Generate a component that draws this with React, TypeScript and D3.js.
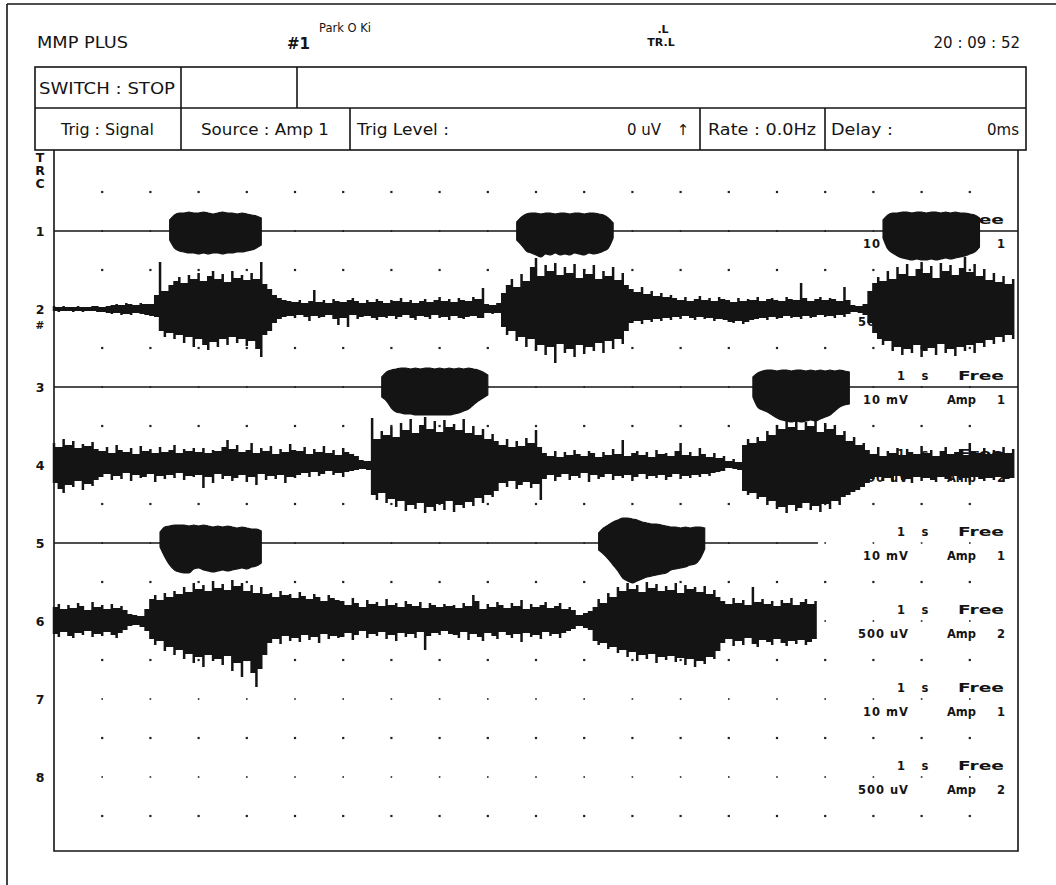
import React from 'react';
import * as d3 from 'd3';

// sampling interval of the recorded envelopes (s)
const DT = 0.1;
const SWEEP = 20; // seconds across the screen

const trcLabels = ['1', '2', '3', '4', '5', '6', '7', '8'];
const sensLabels = ['10 mV', '500 uV', '10 mV', '500 uV', '10 mV', '500 uV', '10 mV', '500 uV'];
const ampNo = ['1', '2', '1', '2', '1', '2', '1', '2'];
const timeBase = ['1', 's'];
const trigMode = 'Free';
// traces 5 and 6 stop early
const traceEnd = [20, 20, 20, 20, 15.85, 15.85, 20, 20];

// trace 2 (500 uV, Amp 2) envelope: up / down excursion per sample
const trc2Hi = [
  3, 2, 3, 2, 2, 3, 2, 2, 3, 3, 2, 3, 4, 5, 4, 6, 5, 4, 6, 5, 5,
  14, 47, 18, 24, 28, 32, 26, 34, 30, 36, 28, 33, 38, 30, 35, 27, 38, 31, 34, 29, 36, 30, 47, 25, 20, 14, 11, 9,
  8, 7, 9, 6, 8, 19, 7, 9, 6, 10, 8, 7, 9, 11, 8, 6, 9, 7, 10, 8, 6, 9, 8, 11, 7, 9, 6, 8, 10, 7, 9, 12, 8, 10, 7, 11, 9, 8, 12, 10,
  21, 5, 4, 6,
  16, 24, 30, 22, 35, 28, 42, 51, 33, 44, 38, 46, 34, 42, 36, 45, 31, 40, 35, 44, 30, 38, 33, 42, 29, 36, 24,
  20, 17, 22, 15, 18, 13, 16, 12, 14,
  11, 9, 12, 8, 10, 13, 9, 11, 8, 12, 10, 9, 7, 11, 8, 10, 9, 12, 8, 10, 11, 9, 8, 12, 10, 9, 26, 11, 8, 10, 12, 9, 11, 10, 8, 22, 9,
  4, 3, 5,
  18, 26, 32, 28, 38, 30, 42, 35, 45, 33, 40, 47, 36, 43, 31, 46, 38, 44, 34, 41, 52, 37, 45, 33, 40, 29, 36, 27, 33, 25, 30,
];
const trc2Lo = [
  2, 3, 2, 2, 3, 2, 3, 2, 2, 3, 3, 4, 5, 4, 6, 5, 6, 4, 5, 6, 7,
  8, 22, 28, 24, 30, 26, 34, 28, 38, 30, 36, 41, 33, 38, 30, 36, 28, 34, 30, 37, 32, 40, 48, 26, 22, 14, 10, 8,
  7, 9, 6, 8, 12, 7, 9, 8, 6, 10, 16, 9, 18, 6, 10, 8, 7, 9, 11, 8, 9, 7, 10, 8, 6, 9, 11, 7, 8, 10, 6, 9, 8, 11, 7, 9, 10, 8, 7, 9,
  9, 4, 5, 4,
  18, 26, 22, 32, 28, 38, 30, 42, 36, 46, 38, 54, 35, 44, 40, 48, 36, 45, 38, 42, 34, 44, 32, 40, 30, 35, 22,
  14, 12, 15, 11, 13, 10, 12, 9, 11,
  8, 10, 7, 9, 11, 8, 10, 9, 12, 10, 11, 13, 14, 12, 15, 13, 11, 10, 9, 11, 8, 10, 9, 7, 9, 8, 10, 7, 9, 8, 6, 8, 7, 9, 6, 8, 5,
  3, 4, 6,
  14, 24, 30, 36, 32, 42, 38, 46, 40, 44, 36, 48, 42, 39, 46, 35, 44, 40, 47, 38, 42, 36, 44, 34, 38, 31, 35, 28, 33, 26, 30,
];

// trace 4 (500 uV, Amp 2)
const trc4Hi = [
  22, 18, 26, 20, 24, 17, 21, 19, 23, 16,
  14, 18, 12, 20, 15, 13, 17, 11, 19, 14, 16, 12, 18, 13, 15, 20, 12, 16, 14, 17, 13,
  17, 12, 15, 14, 18, 25, 16, 20, 13, 15, 22, 12, 17, 14, 19, 11, 16, 13, 21, 15,
  14, 18, 11, 16, 13, 19, 12, 15, 10, 17, 13, 11, 9,
  5, 4,
  47, 26, 34, 30, 38, 28, 42, 35, 46, 32, 40, 48, 36, 44, 33, 45, 38, 41, 35, 46, 32, 39, 30, 36, 26, 31, 24,
  20, 26, 18, 24, 19, 27, 22, 35, 18,
  12, 9, 14, 8, 13, 10, 15, 11, 9, 14, 12, 8, 13, 10, 16, 11, 25, 9, 12, 14, 10, 13, 8, 15, 11, 12, 9, 14, 22, 10, 13, 9, 17, 11, 8, 12, 7, 9,
  4, 6, 3,
  20, 26, 22, 28, 24, 34, 30, 40, 36, 45, 38, 48, 35, 43, 39, 46, 33, 42, 36, 40, 30, 34, 24, 28, 20, 22,
  15, 11, 18, 9, 14, 12, 17, 10, 16, 13, 11, 19, 12, 15, 9, 14, 18, 11, 13, 16, 10, 22, 14, 12, 17, 11, 15, 13, 18, 12, 16,
];
const trc4Lo = [
  18, 24, 28, 20, 22, 16, 25, 19, 21, 15,
  12, 9, 15, 11, 14, 8, 16, 10, 13, 12, 9, 17, 11, 14, 10, 13, 8, 15, 11, 12, 10,
  23, 12, 18, 9, 14, 11, 16, 13, 10, 17, 12, 20, 9, 15, 11, 14, 10, 18, 12, 13,
  10, 8, 12, 7, 11, 9, 6, 10, 8, 12, 7, 6, 5,
  4, 5,
  30, 35, 28, 38, 34, 42, 36, 46, 40, 44, 38, 48, 42, 46, 39, 45, 36, 47, 40, 43, 37, 41, 33, 38, 30, 32, 26,
  18, 22, 16, 24, 20, 17, 23, 19, 35,
  14, 10, 16, 12, 9, 15, 11, 13, 8, 17, 10, 14, 12, 9, 15, 11, 13, 10, 16, 12, 9, 14, 11, 13, 10, 15, 12, 9, 14, 11, 13, 10, 12, 9, 11, 8, 7, 6,
  3, 4, 5,
  26, 30, 28, 34, 32, 40, 36, 44, 42, 48, 40, 46, 43, 38, 45, 41, 47, 39, 44, 36, 40, 32, 30, 27, 25, 22,
  18, 14, 12, 16, 13, 17, 11, 15, 14, 18, 12, 16, 13, 15, 17, 12, 14, 16, 11, 15, 13, 17, 12, 14, 16, 13, 15, 12, 17, 14, 13,
];

// trace 6 (500 uV, Amp 2)
const trc6Hi = [
  14, 17, 12, 16, 13, 18, 15, 11, 19, 14, 16, 12, 17, 13, 15, 11,
  7, 6, 5, 12,
  22, 26, 21, 28, 24, 30, 27, 34, 29, 38, 32, 36, 30, 40, 33, 37, 31, 41, 35, 38, 30, 36, 28, 34, 27,
  28, 24, 30, 26, 27, 23, 29, 25, 22, 27, 24, 20, 26, 23, 21,
  20, 16, 23, 18, 14, 21, 17, 19, 15, 22, 16, 18, 14, 20, 17, 15, 19, 13, 18, 16, 14, 17, 15,
  16, 13, 18, 15, 26, 20, 12, 17, 14, 19, 16, 13, 18, 15, 21, 12, 17, 14, 16, 19, 13, 15, 18, 12, 14, 11,
  6, 8, 10,
  14, 22, 18, 28, 24, 34, 30, 38, 32, 36, 29, 39, 33, 37, 30, 35, 31, 38, 28, 36, 32, 34, 29, 35, 27, 31, 24,
  20, 17, 23, 18, 21, 16, 34, 19, 22, 17, 20, 15, 21, 18, 23, 16, 19, 22, 17, 20,
];
const trc6Lo = [
  13, 16, 11, 15, 17, 12, 14, 10, 16, 13, 15, 11, 14, 17, 12, 9,
  5, 4, 6, 10,
  18, 24, 20, 30, 26, 34, 29, 38, 33, 42, 36, 46, 34, 40, 38, 44, 35, 50, 42, 56, 40, 52, 66, 48, 34,
  22, 18, 23, 15, 20, 17, 21, 14, 19, 16, 22, 13, 18, 15, 17,
  16, 12, 19, 14, 10, 17, 13, 15, 11, 18, 14, 20, 12, 16, 13, 17, 11, 29, 15, 12, 14, 10, 13,
  14, 17, 11, 19, 13, 16, 20, 12, 15, 18, 11, 14, 17, 13, 21, 12, 16, 14, 18, 11, 15, 13, 17, 12, 10, 8,
  5, 7, 9,
  20, 24, 22, 28, 26, 32, 29, 36, 31, 40, 34, 38, 33, 42, 36, 39, 35, 41, 37, 44, 38, 46, 40, 43, 36, 38, 30,
  22, 18, 25, 20, 24, 17, 23, 26, 19, 21, 24, 18, 22, 25, 20, 23, 19, 24, 21, 18,
];

// Amp 1 bursts (traces 1, 3, 5): onset time and envelope
const trc1BurstStart = [2.4, 9.6, 17.2];
const trc1BurstHi = [
  [11, 16, 18, 18, 19, 18, 18, 19, 18, 17, 18, 19, 18, 18, 17, 18, 17, 16, 15, 13],
  [9, 14, 17, 18, 18, 17, 18, 18, 17, 18, 18, 17, 18, 18, 17, 18, 18, 17, 16, 13, 8],
  [11, 16, 18, 18, 19, 19, 18, 19, 19, 18, 19, 19, 18, 19, 18, 19, 18, 18, 17, 16, 13],
];
const trc1BurstLo = [
  [9, 17, 20, 21, 22, 22, 23, 22, 23, 22, 22, 23, 22, 22, 21, 21, 20, 19, 17, 14],
  [9, 14, 20, 22, 24, 26, 23, 24, 22, 24, 23, 24, 22, 23, 24, 22, 23, 22, 20, 17, 7],
  [7, 18, 22, 25, 27, 28, 29, 28, 29, 29, 28, 29, 28, 27, 28, 27, 26, 25, 23, 21, 16],
];
const trc3BurstStart = [6.8, 14.5];
const trc3BurstHi = [
  [10, 15, 17, 18, 19, 19, 18, 19, 18, 19, 19, 18, 19, 18, 19, 18, 19, 18, 19, 18, 17, 15, 12],
  [10, 14, 16, 17, 17, 16, 17, 17, 16, 17, 17, 16, 17, 16, 17, 16, 17, 16, 17, 16, 15],
];
const trc3BurstLo = [
  [10, 14, 21, 25, 26, 27, 27, 28, 28, 28, 28, 28, 28, 28, 28, 27, 26, 24, 22, 18, 14, 11, 8],
  [10, 20, 23, 25, 28, 31, 33, 34, 35, 34, 35, 34, 33, 34, 32, 30, 28, 24, 20, 18, 17],
];
const trc5BurstStart = [2.2, 11.3];
const trc5BurstHi = [
  [11, 16, 17, 18, 18, 18, 17, 18, 17, 18, 17, 16, 17, 16, 17, 16, 15, 16, 15, 14, 14, 12],
  [10, 15, 18, 21, 23, 25, 25, 24, 23, 21, 20, 19, 19, 18, 17, 16, 16, 15, 16, 15, 16, 16, 15],
];
const trc5BurstLo = [
  [4, 14, 22, 27, 29, 30, 30, 26, 25, 27, 28, 29, 28, 27, 28, 27, 26, 25, 26, 24, 23, 20],
  [7, 11, 16, 22, 28, 35, 38, 40, 38, 36, 34, 33, 32, 31, 30, 27, 26, 25, 24, 22, 21, 16, 6],
];

const INK = '#141414';
const HEAD_FONT = "'DejaVu Sans', 'Open Sans', sans-serif";
const LABEL_FONT = "'DejaVu Sans', sans-serif";

const timeScale = d3.scaleLinear().domain([0, SWEEP]).range([54, 1018]);
const trcScale = d3.scaleLinear().domain([1, 8]).range([231, 777]);
const ampScale = d3.scaleLinear().domain([0, 39]).range([0, 39]);

// each sample is a vertical stroke from its upper to its lower excursion;
// a second stroke halfway to the next sample takes the smaller of the two
function sweepPath(hi: number[], lo: number[], trc: number, t0 = 0) {
  const base = trcScale(trc);
  let d = '';
  hi.forEach((h, i) => {
    const l = lo[i] ?? 0;
    const x = timeScale(t0 + i * DT);
    d += `M${x.toFixed(2)},${(base - ampScale(h)).toFixed(2)}V${(base + ampScale(l)).toFixed(2)}`;
    if (i < hi.length - 1) {
      const hm = Math.min(h, hi[i + 1]);
      const lm = Math.min(l, lo[i + 1] ?? 0);
      const xm = timeScale(t0 + (i + 0.5) * DT);
      d += `M${xm.toFixed(2)},${(base - ampScale(hm)).toFixed(2)}V${(base + ampScale(lm)).toFixed(2)}`;
    }
  });
  return d;
}

function blobOutline(hi: number[], lo: number[], trc: number, t0: number) {
  const base = trcScale(trc);
  const rows = hi.map((h, i) => ({ t: t0 + i * DT, hi: h, lo: lo[i] ?? 0 }));
  return (
    d3
      .area<{ t: number; hi: number; lo: number }>()
      .x((d) => timeScale(d.t))
      .y0((d) => base + ampScale(d.lo))
      .y1((d) => base - ampScale(d.hi))
      .curve(d3.curveMonotoneX)(rows) || ''
  );
}

const App = () => {
  const gridT = d3.range(1, SWEEP);
  const gridRows = d3.range(0.5, 8.6, 0.5);

  const bursts = [
    { trc: 1, start: trc1BurstStart, hi: trc1BurstHi, lo: trc1BurstLo },
    { trc: 3, start: trc3BurstStart, hi: trc3BurstHi, lo: trc3BurstLo },
    { trc: 5, start: trc5BurstStart, hi: trc5BurstHi, lo: trc5BurstLo },
  ];
  const noisy = [
    { trc: 2, hi: trc2Hi, lo: trc2Lo },
    { trc: 4, hi: trc4Hi, lo: trc4Lo },
    { trc: 6, hi: trc6Hi, lo: trc6Lo },
  ];

  return (
    <svg
      width={1056}
      height={885}
      style={{ position: 'absolute', left: 0, top: 0, background: '#fff' }}
    >
      <rect width={1056} height={885} fill="#fff" />

      {/* outer page edge */}
      <line x1={7} y1={4} x2={7} y2={885} stroke={INK} strokeWidth={1.6} />
      <line x1={7} y1={4} x2={1056} y2={4} stroke={INK} strokeWidth={1.6} />

      {/* header */}
      <g fontFamily={HEAD_FONT} fill={INK}>
        <text x={37} y={48} fontSize={15} textLength={91} lengthAdjust="spacingAndGlyphs">MMP PLUS</text>
        <text x={287} y={49} fontSize={15} fontWeight={700}>#1</text>
        <text x={319} y={32} fontSize={11.5}>Park O Ki</text>
        <text x={663} y={33} fontSize={11} fontWeight={700} textAnchor="middle">.L</text>
        <text x={661} y={46} fontSize={11} fontWeight={700} textAnchor="middle">TR.L</text>
        <text x={1020} y={48} fontSize={15} textAnchor="end">20 : 09 : 52</text>

        <text x={39} y={94} fontSize={15} textLength={136} lengthAdjust="spacingAndGlyphs">SWITCH : STOP</text>
        <text x={61} y={135} fontSize={15} textLength={93} lengthAdjust="spacingAndGlyphs">Trig : Signal</text>
        <text x={201} y={135} fontSize={15} textLength={128} lengthAdjust="spacingAndGlyphs">Source : Amp 1</text>
        <text x={357} y={135} fontSize={15} textLength={92} lengthAdjust="spacingAndGlyphs">Trig Level :</text>
        <text x={661} y={135} fontSize={15} textAnchor="end">0 uV</text>
        <text x={683} y={135} fontSize={15} textAnchor="middle">↑</text>
        <text x={708} y={135} fontSize={15} textLength={108} lengthAdjust="spacingAndGlyphs">Rate : 0.0Hz</text>
        <text x={831} y={135} fontSize={15} textLength={62} lengthAdjust="spacingAndGlyphs">Delay :</text>
        <text x={1019} y={135} fontSize={15} textAnchor="end">0ms</text>
      </g>
      <g stroke={INK} strokeWidth={1.6} fill="none">
        <rect x={35} y={67} width={991} height={83} />
        <line x1={35} y1={108} x2={1026} y2={108} />
        <line x1={181} y1={67} x2={181} y2={150} />
        <line x1={297} y1={67} x2={297} y2={108} />
        <line x1={350} y1={108} x2={350} y2={150} />
        <line x1={700} y1={108} x2={700} y2={150} />
        <line x1={825} y1={108} x2={825} y2={150} />
        {/* screen frame */}
        <polyline points="54,150 54,851 1018,851 1018,150" />
      </g>

      {/* TRC column */}
      <g fontFamily={LABEL_FONT} fontWeight={700} fontSize={12.5} fill={INK} textAnchor="middle">
        <text x={40} y={162}>T</text>
        <text x={40} y={175}>R</text>
        <text x={40} y={188}>C</text>
        {trcLabels.map((l, i) => (
          <text key={l} x={40} y={trcScale(i + 1) + 4.5}>{l}</text>
        ))}
        <text x={40} y={trcScale(2) + 20} fontSize={10.5}>#</text>
      </g>

      {/* dot grid */}
      <g fill="#222">
        {gridRows.map((r) =>
          gridT.map((t) => {
            const s = Number.isInteger(r) ? 1.6 : 2.2;
            return (
              <rect key={`${r}-${t}`} x={timeScale(t) - s / 2} y={trcScale(r + 0.5) - 39 - s / 2} width={s} height={s} />
            );
          })
        )}
      </g>

      {/* per-trace settings */}
      <g fontFamily={LABEL_FONT} fontWeight={700} fontSize={11.5} fill={INK}>
        {trcLabels.map((l, i) => {
          const y = trcScale(i + 1);
          return (
            <g key={l}>
              <text x={901} y={y - 7} textAnchor="middle">{timeBase[0]}</text>
              <text x={925} y={y - 7} textAnchor="middle">{timeBase[1]}</text>
              <text x={958} y={y - 7} textLength={46} lengthAdjust="spacingAndGlyphs">{trigMode}</text>
              <text x={909} y={y + 17} textAnchor="end" letterSpacing={1}>{sensLabels[i]}</text>
              <text x={947} y={y + 17} textLength={29} lengthAdjust="spacingAndGlyphs">Amp</text>
              <text x={1001} y={y + 17} textAnchor="middle">{ampNo[i]}</text>
            </g>
          );
        })}
      </g>

      {/* Amp 1 channels: flat line with bursts */}
      {bursts.map((b) => (
        <g key={b.trc}>
          <line
            x1={timeScale(0)}
            x2={timeScale(traceEnd[b.trc - 1])}
            y1={trcScale(b.trc)}
            y2={trcScale(b.trc)}
            stroke={INK}
            strokeWidth={1.6}
          />
          {b.start.map((t0, k) => (
            <g key={k}>
              <path d={blobOutline(b.hi[k], b.lo[k], b.trc, t0)} fill={INK} stroke={INK} strokeWidth={1.2} />
            </g>
          ))}
        </g>
      ))}

      {/* Amp 2 channels: raw EMG */}
      {noisy.map((n) => (
        <path
          key={n.trc}
          d={sweepPath(n.hi, n.lo, n.trc)}
          fill="none"
          stroke={INK}
          strokeWidth={2.5}
          strokeLinecap="butt"
        />
      ))}
    </svg>
  );
};

export default App;
